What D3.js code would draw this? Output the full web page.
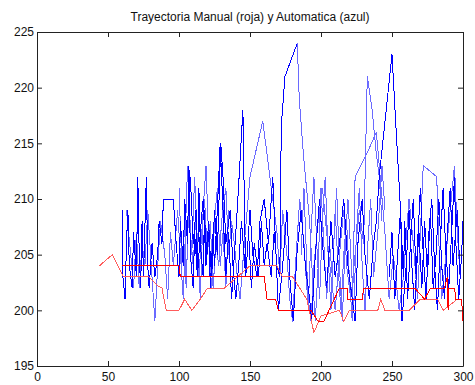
<!DOCTYPE html>
<html>
<head>
<meta charset="utf-8">
<script src="https://cdn.jsdelivr.net/npm/d3@7"></script>
<style>
  body { margin: 0; background: #fff; }
  text { font-family: "Liberation Sans", Arial, sans-serif; }
</style>
</head>
<body>
<div id="chart"></div>
<script>
// Tick labels
const xTicks = [0, 50, 100, 150, 200, 250, 300];
const yTicks = [195, 200, 205, 210, 215, 220, 225];

// Manual trajectories (red) as [x, y]
const redDark = [[60,204],[100,204],[101,203],[160,203],[161,202],[162,201],[168,201],[170,200],[193,200],[198,199],[202,199],[213,202],[219,202],[219,201],[229,201],[230,202],[266,202],[273,201],[277,202],[287,202],[289,203],[289.5,200],[290,202],[294,202],[295,201],[299,201],[300,199]];
const redLight = [[44,204],[53,205],[61,203],[79,203],[85,202.2],[88,202],[91,200],[100,200],[104,201],[109,200],[115,201],[120,202],[132,202],[150,204],[169,204],[173,203],[180,203],[185,202],[190,201],[195,198],[200,199.5],[213,200],[216,199],[220,200],[240,200],[242,201],[245,200],[262,200],[270,201],[282,201],[286,200],[296,201],[299,201],[300,199]];

// Automatic trajectories (blue) as [x, y]
const blueDark1 = [[60,209],[60.5,203],[62,201],[63,206],[64,209],[65,204],[67,202],[68,207],[70,203],[71,212],[72,205],[73,202],[74,208],[75,203],[77,212],[78,204],[79,202],[81,206],[83,203],[85,205],[86,208],[88,206],[89,210],[96,210],[98,206],[100,203],[101,208],[103,204],[104,210],[106,206],[107,213],[108,205],[110,202],[111,207],[113,203],[114,211],[115,206],[117,203],[118,209],[119,205],[121,208],[122,202],[124,207],[125,204],[127,209],[129,215],[131,209],[133,203],[135,207],[137,201],[139,205],[141,209],[145,218],[146,210],[147,203],[149,207],[151,202],[153,206],[156,203],[158,208],[160,204],[162,206],[165,203],[167,207],[169,204],[171,203],[172,216.5],[174.6,221],[183.3,224]];
const blueLight1 = [[183.3,224],[184.7,219],[187.6,214],[192,208],[194,203],[196,199],[198,204],[200,211],[202,206],[204,201],[206,206],[208,203],[210,209],[212,204],[214,200],[216,205],[218,208],[220,203],[222,199],[224,212],[232,214],[239,216],[245,207],[248,201],[251,205],[255,200],[258,203],[262,210],[265,206],[268,201],[272,213],[281.5,212],[283,206],[285,201],[288,205],[291,209],[294,213],[296,207],[298,203]];
const blueLight2 = [[63,209],[66,205],[68,202],[70,207],[72,202],[74,206],[76,204],[78,209],[80,205],[83,199],[85,204],[87,208],[90,205],[92,201],[94,207],[96,204],[99,209],[101,205],[103,201],[106,213],[108,207],[110,204],[112,209],[114,203],[116,207],[118,210],[120,205],[122,208],[124,202],[126,206],[128,204],[130,208],[133,211],[135,205],[137,208],[139,206],[141,203],[143,201],[146,206],[150,212],[159,217],[165,211],[169,207],[171,203],[173,209],[176,205],[178,201],[180,199],[182,204],[185,210],[188,206],[190,202],[193,199],[195,204],[198,208],[201,211],[204,207],[207,203],[210,200],[213,205],[216,209],[218,204],[221,201],[224,205],[227,209],[230,206],[232.6,221],[236,218],[239,214],[241,212],[243,208]];
const blueLight3 = [[186,205],[188,211],[190,204],[191,200],[193,207],[195,212],[197,206],[199,201],[201,208],[203,212],[205,205],[207,200],[209,206],[211,211],[213,204],[215,199],[217,206],[219,210],[221,205],[223,200],[225,207],[227,211],[229,204],[231,200],[233,206],[235,210],[237,203],[240,207],[243,213],[245,209]];
const blueLight4 = [[100,211],[102,204],[104,208],[105,202],[107,210],[109,205],[111,212],[113,206],[115,201],[117,209],[119,213],[121,206],[123,202],[125,208],[127,211],[129,204],[131,207],[133,202],[135,209]];
const blueDark2 = [[108,212],[110,206],[112,209],[113,203],[115,207],[117,210],[119,204],[121,207],[123,203],[125,209],[127,205],[129.4,215],[131,212],[133,206],[136,209],[138,204],[140,201],[142,204],[144,208],[147,203],[150,209],[152,205],[155,203],[157,208],[160,210],[163,206],[166,212],[168,206],[170,200],[173,204],[176,209],[178,203],[180.5,199],[183,205],[186,209],[189,204],[192,201],[193.4,199],[196,205],[199,210],[201,206],[204,202],[207,208],[210,203],[213,206],[216,210],[219,204],[222,201],[224,199],[226,206],[229,210],[231,205],[234,201],[237,206],[239,208],[241,212],[250,223],[253,216],[255.6,210],[257,205],[257,199],[260,204],[262,209],[264,204],[266,200],[268,206],[270,211],[272,205],[274,201],[276,207],[278,210],[280,204],[282,200],[284,206],[286,211],[288,205],[290,202],[292,207],[294,212],[295,206],[297,201],[299,205],[300,208]];
const blueDark3 = [[248,203],[250,207],[252,201],[254,205],[256,209],[258,203],[259,208],[261,201],[263,206],[265,210],[267,203],[269,207],[271,202],[273,208],[275,203],[277,209],[279,202],[281,205],[283,210],[285,204],[287,201],[289,207],[291,211],[293,204],[296,209],[298,203]];

const width = 475, height = 385;
const margin = { top: 32, right: 12, bottom: 19, left: 37 };

const x = d3.scaleLinear().domain([0, 300]).range([margin.left, width - margin.right]);
const y = d3.scaleLinear().domain([195, 225]).range([height - margin.bottom, margin.top]);

const svg = d3.select("#chart").append("svg")
  .attr("width", width)
  .attr("height", height);

const line = d3.line().x(d => x(d[0])).y(d => y(d[1]));

const lightBlue = "#6a6aff", darkBlue = "#0000ff";
const series = [
  { data: blueLight4, color: lightBlue },
  { data: blueLight2, color: lightBlue },
  { data: blueLight3, color: lightBlue },
  { data: blueDark1, color: darkBlue },
  { data: blueLight1, color: lightBlue },
  { data: blueDark2, color: darkBlue },
  { data: blueDark3, color: darkBlue },
  { data: redLight, color: "#ff5c5c" },
  { data: redDark, color: "#ff0000" }
];

svg.append("g")
  .selectAll("path")
  .data(series)
  .join("path")
  .attr("fill", "none")
  .attr("stroke", d => d.color)
  .attr("stroke-width", 1)
  .attr("shape-rendering", "crispEdges")
  .attr("d", d => line(d.data));

// axes, MATLAB style (ticks inside)
const styleAxis = g => g
  .attr("font-size", 12)
  .attr("font-family", "'Liberation Sans', Arial, sans-serif")
  .call(g => g.selectAll(".domain").attr("stroke", "#222"))
  .call(g => g.selectAll(".tick line").attr("stroke", "#222"))
  .call(g => g.selectAll(".tick text").attr("fill", "#111"));

svg.append("g")
  .attr("transform", `translate(0,${y(195)})`)
  .call(d3.axisBottom(x).tickValues(xTicks).tickSizeInner(-5).tickSizeOuter(0).tickPadding(6))
  .call(styleAxis);

svg.append("g")
  .attr("transform", `translate(0,${y(225)})`)
  .call(d3.axisTop(x).tickValues(xTicks).tickSizeInner(-5).tickSizeOuter(0).tickFormat(""))
  .call(styleAxis);

svg.append("g")
  .attr("transform", `translate(${x(0)},0)`)
  .call(d3.axisLeft(y).tickValues(yTicks).tickSizeInner(-5).tickSizeOuter(0).tickPadding(3))
  .call(styleAxis);

svg.append("g")
  .attr("transform", `translate(${x(300)},0)`)
  .call(d3.axisRight(y).tickValues(yTicks).tickSizeInner(-5).tickSizeOuter(0).tickFormat(""))
  .call(styleAxis);

svg.append("text")
  .attr("x", (x(0) + x(300)) / 2)
  .attr("y", 21)
  .attr("text-anchor", "middle")
  .attr("font-size", 12)
  .attr("fill", "#111")
  .text("Trayectoria Manual (roja) y Automatica (azul)");
</script>
</body>
</html>
